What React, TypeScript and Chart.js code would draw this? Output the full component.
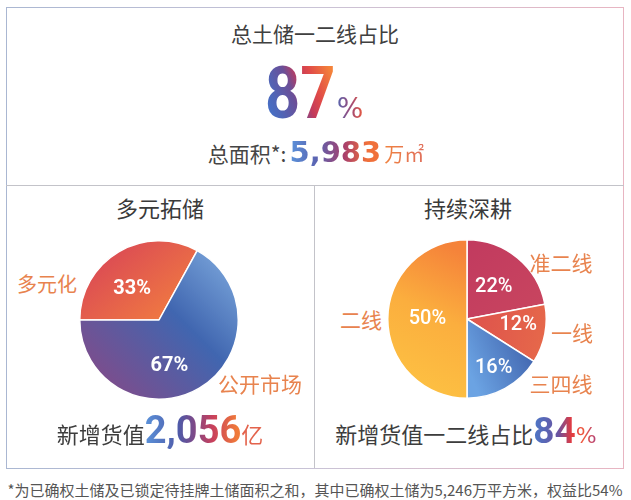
import React, { useEffect, useRef } from "react";
import { Chart, registerables } from "chart.js";

Chart.register(...registerables);

// ---------- data ----------
const leftCategories = ["多元化", "公开市场"];
const leftValues = [33, 67];
const rightCategories = ["准二线", "一线", "三四线", "二线"];
const rightValues = [22, 12, 16, 50];

const titleText = "总土储一二线占比";
const headlineValue = "87";
const totalAreaValue = "5,983";
const leftTitle = "多元拓储";
const rightTitle = "持续深耕";
const leftTotalValue = "2,056";
const rightShareValue = "84";
const footnoteText = "*为已确权土储及已锁定待挂牌土储面积之和，其中已确权土储为5,246万平方米，权益比54%";

// ---------- styles ----------
const CJK = "'Noto Sans CJK SC', 'Noto Sans', sans-serif";
const LABEL_ORANGE = "#e8834e";
const TEXT_DARK = "#3d3d3d";

type GradSpec = { from: [number, number]; to: [number, number]; stops: [number, string][] };

const leftGrads: GradSpec[] = [
  { from: [0.3, 0.0], to: [0.75, 0.55], stops: [[0, "#dc4d53"], [1, "#f6873c"]] },
  { from: [1.0, 0.05], to: [0.1, 0.95], stops: [[0, "#84b0e2"], [0.45, "#4066b0"], [1, "#844a88"]] },
];
const rightGrads: GradSpec[] = [
  { from: [0.5, 0.0], to: [1.0, 0.5], stops: [[0, "#c13a5f"], [1, "#c9465f"]] },
  { from: [0.6, 0.5], to: [1.0, 0.6], stops: [[0, "#df564c"], [1, "#e6684a"]] },
  { from: [0.5, 0.8], to: [0.95, 0.6], stops: [[0, "#6ba3e3"], [1, "#3a5aa5"]] },
  { from: [0.1, 0.95], to: [0.5, 0.1], stops: [[0, "#fdc243"], [0.55, "#fbae3e"], [1, "#f5833a"]] },
];

const innerLabels = {
  id: "innerLabels",
  afterDatasetsDraw(chart: any, _args: any, opts: any) {
    const { ctx } = chart;
    const meta = chart.getDatasetMeta(0);
    const values = chart.data.datasets[0].data;
    meta.data.forEach((arc: any, i: number) => {
      const { x, y, startAngle, endAngle, outerRadius } = arc.getProps(
        ["x", "y", "startAngle", "endAngle", "outerRadius"],
        true
      );
      const a = (startAngle + endAngle) / 2 + ((opts.shift?.[i] || 0) * Math.PI) / 180;
      const r = outerRadius * (opts.radius?.[i] ?? 0.55);
      ctx.save();
      ctx.fillStyle = "#ffffff";
      ctx.font = opts.font;
      ctx.textAlign = "center";
      ctx.textBaseline = "middle";
      ctx.fillText(values[i] + "%", x + Math.cos(a) * r, y + Math.sin(a) * r);
      ctx.restore();
    });
  },
};

function makeBg(specs: GradSpec[]) {
  return (c: any) => {
    const chart = c.chart;
    const area = chart.chartArea;
    const spec = specs[c.dataIndex];
    if (!area) return spec.stops[0][1];
    const w = area.right - area.left;
    const h = area.bottom - area.top;
    const g = chart.ctx.createLinearGradient(
      area.left + spec.from[0] * w,
      area.top + spec.from[1] * h,
      area.left + spec.to[0] * w,
      area.top + spec.to[1] * h
    );
    spec.stops.forEach(([o, col]) => g.addColorStop(o, col));
    return g;
  };
}

function Pie(props: {
  labels: string[];
  values: number[];
  grads: GradSpec[];
  rotation: number;
  left: number;
  top: number;
  size: number;
  labelRadius: number[];
  labelShift: number[];
  font: string;
}) {
  const ref = useRef<HTMLCanvasElement | null>(null);
  useEffect(() => {
    if (!ref.current) return;
    const chart = new Chart(ref.current, {
      type: "pie",
      data: {
        labels: props.labels,
        datasets: [
          {
            data: props.values,
            backgroundColor: makeBg(props.grads) as any,
            borderColor: "#ffffff",
            borderWidth: 1.5,
          },
        ],
      },
      options: {
        responsive: false,
        animation: false,
        devicePixelRatio: 1,
        rotation: props.rotation,
        layout: { padding: 0 },
        plugins: {
          legend: { display: false },
          tooltip: { enabled: false },
          innerLabels: { radius: props.labelRadius, shift: props.labelShift, font: props.font },
        } as any,
      },
      plugins: [innerLabels as any],
    });
    return () => chart.destroy();
  }, []);
  return (
    <canvas
      ref={ref}
      width={props.size}
      height={props.size}
      style={{ position: "absolute", left: props.left, top: props.top, width: props.size, height: props.size }}
    />
  );
}

function Txt(props: {
  x: number;
  y: number;
  size: number;
  color?: string;
  weight?: number;
  children: React.ReactNode;
}) {
  return (
    <div
      style={{
        position: "absolute",
        left: props.x,
        top: props.y,
        transform: "translate(-50%, -50%)",
        fontSize: props.size,
        lineHeight: 1,
        color: props.color || TEXT_DARK,
        fontWeight: props.weight || 400,
        fontFamily: CJK,
        whiteSpace: "nowrap",
      }}
    >
      {props.children}
    </div>
  );
}

const gradText = (bg: string): React.CSSProperties => ({
  backgroundImage: bg,
  WebkitBackgroundClip: "text",
  backgroundClip: "text",
  color: "transparent",
  WebkitTextFillColor: "transparent",
  display: "inline-block",
});

export default function App() {
  return (
    <div
      style={{
        position: "absolute",
        left: 0,
        top: 0,
        width: 631,
        height: 500,
        background: "#ffffff",
        overflow: "hidden",
        fontFamily: CJK,
      }}
    >
      {/* outer frame */}
      <div
        style={{
          position: "absolute",
          left: 6,
          top: 7,
          width: 616,
          height: 460,
          border: "1px solid",
          borderImage: "linear-gradient(to right, #aab7d2, #c9c3d6 50%, #e8b5c2) 1",
        }}
      />
      {/* dividers */}
      <div style={{ position: "absolute", left: 6, top: 185, width: 618, height: 1, background: "#c3c3c9" }} />
      <div style={{ position: "absolute", left: 314, top: 185, width: 1, height: 283, background: "#c3c3c9" }} />

      {/* header */}
      <Txt x={315} y={33} size={21} color="#404040">
        {titleText}
      </Txt>

      <div
        style={{
          position: "absolute",
          left: 265,
          top: 57,
          display: "flex",
          alignItems: "baseline",
          whiteSpace: "nowrap",
        }}
      >
        <span
          style={{
            ...gradText("linear-gradient(65deg, #3d7ad4 0%, #4f66b8 22%, #6a4f98 42%, #c23a5c 55%, #e04a48 68%, #f4823a 90%)"),
            fontFamily: "Roboto",
            fontWeight: 700,
            fontSize: 73,
            lineHeight: 1,
            transform: "scaleX(0.84)",
            transformOrigin: "0 0",
            marginRight: -13,
          }}
        >
          {headlineValue}
        </span>
        <span
          style={{
            ...gradText("linear-gradient(90deg, #5566b0 0%, #9a4a7a 50%, #e8583e 100%)"),
            fontFamily: "'DejaVu Sans'",
            fontWeight: 400,
            fontSize: 28,
            lineHeight: 1,
            marginLeft: 1,
          }}
        >
          %
        </span>
      </div>

      <div
        style={{
          position: "absolute",
          left: 316,
          top: 138,
          transform: "translateX(-50%)",
          display: "flex",
          alignItems: "baseline",
          whiteSpace: "nowrap",
        }}
      >
        <span style={{ fontFamily: CJK, fontSize: 21, lineHeight: 1, color: "#454545" }}>总面积*:</span>
        <span
          style={{
            ...gradText("linear-gradient(90deg, #5a92da 0%, #5b62b0 30%, #a8406c 60%, #f0703a 85%)"),
            fontFamily: "'DejaVu Sans', Roboto",
            fontWeight: 700,
            fontSize: 29,
            lineHeight: 1,
            marginLeft: 3,
          }}
        >
          {totalAreaValue}
        </span>
        <span
          style={{
            ...gradText("linear-gradient(90deg, #f0823e, #e0705c)"),
            fontFamily: CJK,
            fontSize: 20,
            lineHeight: 1,
            marginLeft: 3,
          }}
        >
          万㎡
        </span>
      </div>

      {/* left panel */}
      <Txt x={160} y={207} size={22} color="#3a3a3a">
        {leftTitle}
      </Txt>
      <Pie
        labels={leftCategories}
        values={leftValues}
        grads={leftGrads}
        rotation={270}
        left={79}
        top={240}
        size={160}
        labelRadius={[0.52, 0.6]}
        labelShift={[-10, 18]}
        font="bold 20px Roboto, 'Noto Sans', sans-serif"
      />
      <Txt x={47} y={284} size={20} color={LABEL_ORANGE}>
        {leftCategories[0]}
      </Txt>
      <Txt x={260} y={383} size={21} color={LABEL_ORANGE}>
        {leftCategories[1]}
      </Txt>

      <div
        style={{
          position: "absolute",
          left: 160,
          top: 411,
          transform: "translateX(-50%)",
          display: "flex",
          alignItems: "baseline",
          whiteSpace: "nowrap",
        }}
      >
        <span style={{ fontFamily: CJK, fontSize: 22, lineHeight: 1, color: TEXT_DARK }}>新增货值</span>
        <span
          style={{
            ...gradText("linear-gradient(90deg, #5a92da 0%, #4f5aa8 35%, #7a4a8a 50%, #c8405c 70%, #f07a3a 95%)"),
            fontFamily: "Roboto",
            fontWeight: 700,
            fontSize: 38,
            lineHeight: 1,
          }}
        >
          {leftTotalValue}
        </span>
        <span style={{ fontFamily: CJK, fontSize: 22, lineHeight: 1, color: "#e3634c" }}>亿</span>
      </div>

      {/* right panel */}
      <Txt x={468} y={207} size={22} color="#3a3a3a">
        {rightTitle}
      </Txt>
      <Pie
        labels={rightCategories}
        values={rightValues}
        grads={rightGrads}
        rotation={0}
        left={387}
        top={239}
        size={160}
        labelRadius={[0.53, 0.65, 0.7, 0.5]}
        labelShift={[0, -4, 0, 0]}
        font="500 20px Roboto, 'Noto Sans', sans-serif"
      />
      <Txt x={561} y={262} size={21} color={LABEL_ORANGE}>
        {rightCategories[0]}
      </Txt>
      <Txt x={572} y={332} size={21} color={LABEL_ORANGE}>
        {rightCategories[1]}
      </Txt>
      <Txt x={561} y={383} size={21} color={LABEL_ORANGE}>
        {rightCategories[2]}
      </Txt>
      <Txt x={361} y={319} size={21} color={LABEL_ORANGE}>
        {rightCategories[3]}
      </Txt>

      <div
        style={{
          position: "absolute",
          left: 466,
          top: 412,
          transform: "translateX(-50%)",
          display: "flex",
          alignItems: "baseline",
          whiteSpace: "nowrap",
        }}
      >
        <span style={{ fontFamily: CJK, fontSize: 22, lineHeight: 1, color: TEXT_DARK }}>新增货值一二线占比</span>
        <span
          style={{
            ...gradText("linear-gradient(90deg, #4b78c8 0%, #6a52a0 40%, #e03a42 60%, #ee5a3e 80%, #b0407a 100%)"),
            display: "flex",
            alignItems: "baseline",
          }}
        >
          <span style={{ fontFamily: "Roboto", fontWeight: 700, fontSize: 37, lineHeight: 1 }}>{rightShareValue}</span>
          <span style={{ fontFamily: "'DejaVu Sans'", fontWeight: 400, fontSize: 22, lineHeight: 1 }}>%</span>
        </span>
      </div>

      {/* footnote */}
      <Txt x={315} y={489} size={15} color="#555555">
        {footnoteText}
      </Txt>
    </div>
  );
}
